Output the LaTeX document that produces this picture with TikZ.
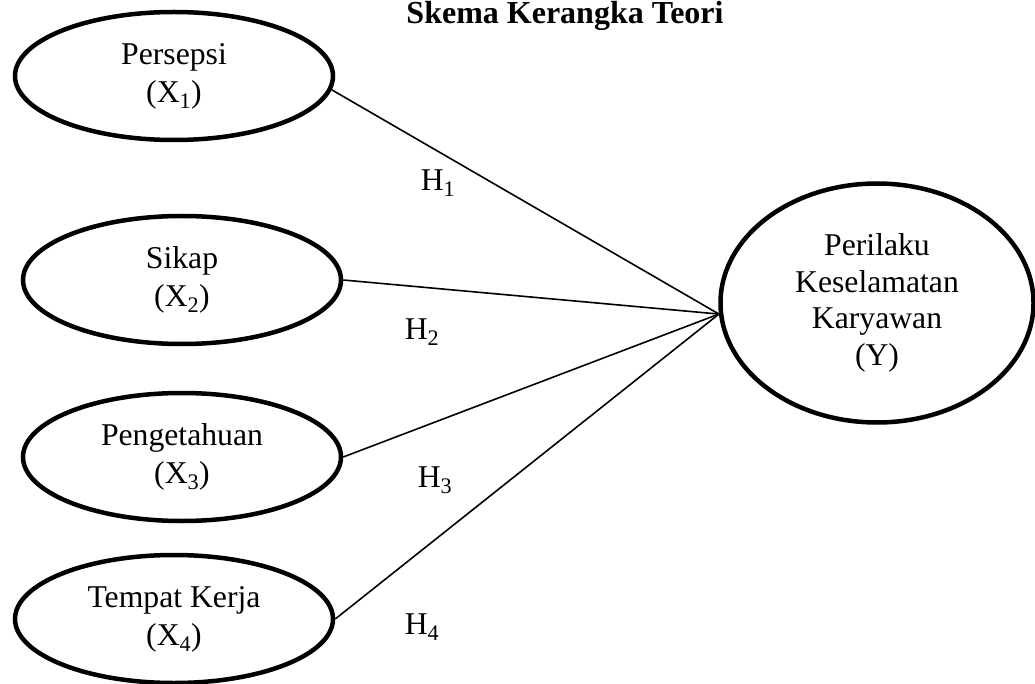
\documentclass[tikz,border=0pt]{standalone}
\usepackage{fontspec}
\setmainfont{Liberation Serif}
\usepackage{tikz}
\usetikzlibrary{shapes.geometric}

\begin{document}
\begin{tikzpicture}[x=1pt, y=-1pt, font=\fontsize{31.7}{38}\selectfont,
    var/.style={draw, ellipse, line width=4.5pt, minimum width=318pt, minimum height=128pt, inner sep=0pt, align=center},
    link/.style={line width=1.6pt}]
            \useasboundingbox (0,0) rectangle (1035,684);
            \node[font=\fontsize{32}{38}\selectfont\bfseries, anchor=base](title) at (565,24){Skema Kerangka Teori};
            \node[var](x1) at (174,76){Persepsi\\(X\textsubscript{1})};
            \node[var](x2) at (182,280){Sikap\\(X\textsubscript{2})};
            \node[var](x3) at (182,457){Pengetahuan\\(X\textsubscript{3})};
            \node[var](x4) at (174,619){Tempat Kerja\\(X\textsubscript{4})};
            \node[var, minimum width=313pt, minimum height=239pt, font=\fontsize{31.7}{36.7}\selectfont](y) at (877,303){Perilaku\\Keselamatan\\Karyawan\\(Y)};
            \node(h1) at (438,183){H\textsubscript{1}};
            \node(h2) at (422,332){H\textsubscript{2}};
            \node(h3) at (435,480){H\textsubscript{3}};
            \node(h4) at (422,627){H\textsubscript{4}};
            \path (x1.355) edge[link] (y.184);
            \path (x2.east) edge[link] (y.184);
            \path (x3.east) edge[link] (y.184);
            \path (x4.east) edge[link] (y.184);
            \end{tikzpicture}
\end{document}
